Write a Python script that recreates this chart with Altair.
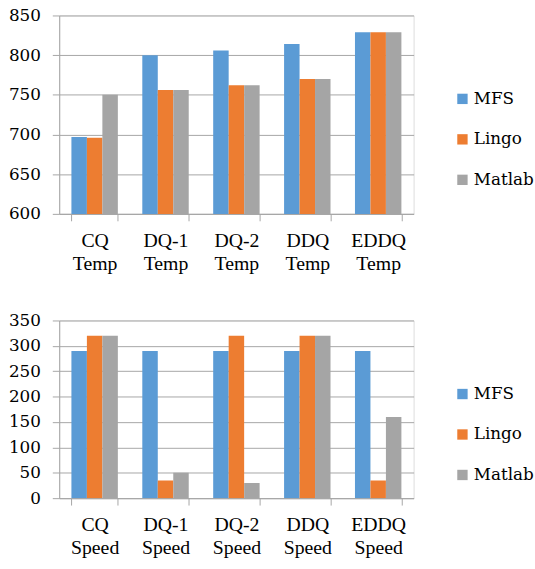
import altair as alt
import pandas as pd

series = ["MFS", "Lingo", "Matlab"]
colors = ["#5B9BD5", "#ED7D31", "#A5A5A5"]

temp_cats = ["CQ Temp", "DQ-1 Temp", "DQ-2 Temp", "DDQ Temp", "EDDQ Temp"]
temp_mfs = [697, 800, 806, 814, 829]
temp_lingo = [696, 756, 762, 770, 829]
temp_matlab = [750, 756, 762, 770, 829]

speed_cats = ["CQ Speed", "DQ-1 Speed", "DQ-2 Speed", "DDQ Speed", "EDDQ Speed"]
speed_mfs = [290, 290, 290, 290, 290]
speed_lingo = [320, 35, 320, 320, 35]
speed_matlab = [320, 50, 30, 320, 160]

temp_ticks = [600, 650, 700, 750, 800, 850]
speed_ticks = [0, 50, 100, 150, 200, 250, 300, 350]

FONT_X = "Times New Roman"
FONT_S = "DejaVu Serif"


def make_df(cats, a, b, c):
    rows = []
    for i, cat in enumerate(cats):
        for s, vals in zip(series, [a, b, c]):
            rows.append({"cat": cat, "series": s, "value": vals[i]})
    return pd.DataFrame(rows)


def panel(df, cats, ticks, height, legend_y):
    color = alt.Color(
        "series:N",
        sort=series,
        scale=alt.Scale(domain=series, range=colors),
        legend=alt.Legend(
            title=None,
            orient="none",
            legendX=400,
            legendY=legend_y,
            symbolType="square",
            symbolSize=110,
            symbolStrokeWidth=0,
            labelFont=FONT_S,
            labelFontSize=17,
            labelColor="#000000",
            rowPadding=23,
            labelOffset=3,
        ),
    )
    return (
        alt.Chart(df)
        .mark_bar(clip=True)
        .encode(
            x=alt.X(
                "cat:N",
                sort=cats,
                scale=alt.Scale(paddingInner=0.345, paddingOuter=0.172),
                axis=alt.Axis(
                    title=None,
                    labelAngle=0,
                    labelExpr="split(datum.label, ' ')",
                    labelFont=FONT_X,
                    labelFontSize=20,
                    labelColor="#000000",
                    labelLineHeight=23,
                    labelPadding=10,
                    tickBand="extent",
                    tickSize=7,
                    tickColor="#A6A6A6",
                    domainColor="#A6A6A6",
                    grid=False,
                ),
            ),
            xOffset=alt.XOffset("series:N", sort=series),
            y=alt.Y(
                "value:Q",
                scale=alt.Scale(domain=[ticks[0], ticks[-1]], zero=False, nice=False),
                axis=alt.Axis(
                    title=None,
                    values=ticks,
                    labelFont=FONT_S,
                    labelFontSize=17,
                    labelColor="#000000",
                    labelPadding=12,
                    tickSize=7,
                    tickColor="#A6A6A6",
                    domainColor="#A6A6A6",
                    gridColor="#A6A6A6",
                ),
            ),
            color=color,
        )
        .properties(width=359, height=height)
    )


top = panel(make_df(temp_cats, temp_mfs, temp_lingo, temp_matlab), temp_cats, temp_ticks, 201, 76)
bottom = panel(make_df(speed_cats, speed_mfs, speed_lingo, speed_matlab), speed_cats, speed_ticks, 180, 66)

chart = (
    alt.vconcat(top, bottom, spacing=108, bounds="flush")
    .resolve_scale(color="independent")
    .properties(padding={"left": 8, "top": 2, "right": 0, "bottom": 0})
    .configure_view(stroke=None)
    .configure(background="#FFFFFF")
)

chart.save("out.html", embed_options={"renderer": "svg", "actions": False})
